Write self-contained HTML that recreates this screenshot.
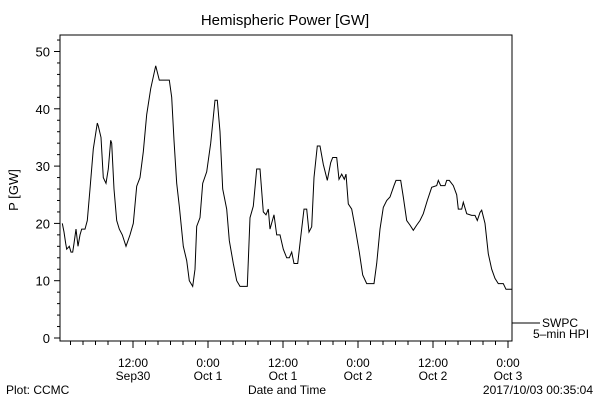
<!DOCTYPE html>
<html><head><meta charset="utf-8"><style>
body{margin:0;background:#fff;}
svg{display:block;font-family:"Liberation Sans",sans-serif;}
text{fill:#000;}
</style></head><body>
<svg width="600" height="400">
<rect x="0" y="0" width="600" height="400" fill="#fff"/>
<text x="285" y="25" font-size="15" text-anchor="middle">Hemispheric Power [GW]</text>
<text transform="translate(18,190) rotate(-90)" font-size="13" text-anchor="middle">P [GW]</text>
<rect x="60" y="35" width="452" height="306" fill="none" stroke="#000" stroke-width="1"/>
<g id="yticks"></g>
<g id="xticks"></g>
<path id="series" fill="none" stroke="#000" stroke-width="1"/>
<line x1="512" y1="323" x2="540" y2="323" stroke="#000"/>
<text x="578" y="327" font-size="12" text-anchor="end">SWPC</text>
<text x="533" y="338" font-size="12">5–min HPI</text>
<text x="6" y="394" font-size="12">Plot: CCMC</text>
<text x="287" y="394" font-size="12" text-anchor="middle">Date and Time</text>
<text x="593" y="394" font-size="12" text-anchor="end">2017/10/03 00:35:04</text>
</svg>
<script>
const hours=[0.69,0.96,1.23,1.39,1.81,2.08,2.35,2.56,2.88,3.2,3.52,3.79,4.32,4.69,5.12,5.65,6.29,6.45,6.88,7.25,7.68,8.05,8.43,8.59,8.96,9.39,9.81,10.29,10.88,11.52,12.05,12.59,13.12,13.65,14.19,14.83,15.63,16.21,17.81,18.19,18.56,18.99,19.41,20.05,20.59,21.01,21.55,21.92,22.19,22.72,23.15,23.79,24.43,25.12,25.49,25.92,26.35,26.99,27.41,28.05,28.59,29.12,30.29,30.72,31.25,31.79,32.32,32.85,33.28,33.65,33.92,34.56,34.99,35.52,36.05,36.59,37.01,37.39,37.76,38.35,38.83,39.36,39.79,40.16,40.59,40.96,41.49,41.92,42.45,43.09,43.63,43.95,44.59,44.96,45.39,45.81,46.08,46.45,46.99,47.52,48.21,48.75,49.39,50.56,50.99,51.52,52.05,52.59,53.12,53.76,54.08,54.83,55.25,55.79,56.32,56.85,57.39,57.92,58.45,59.09,59.79,60.59,60.85,61.23,61.92,62.19,62.61,63.25,63.79,64.05,64.59,64.85,65.39,66.19,66.72,67.09,67.52,67.79,68.32,68.85,69.39,69.92,70.45,71.25,71.68,72.64];
const power=[20,18.5,16.5,15.5,16,15,15,16.5,19,16,18,19,19,20.5,26,33,37.5,37,35,28,27,29.5,34.5,34,26,20.5,19,18,16,18,20,26.5,28,32.5,39,43.5,47.5,45,45,42,34.5,27,23,16,13.5,10,9,12,19.5,21,27,29,34,41.5,41.5,36,26,22.5,17,13,10,9,9,21,23,29.5,29.5,22,21.5,22.5,19,21.5,18,18,15.5,14,14,15,13,13,17.6,22.5,22.5,18.5,19.4,28,33.5,33.5,30.3,27.5,30.6,31.5,31.5,27.7,28.6,27.7,28.6,23.4,22.5,19.4,15,11,9.5,9.5,13,19,22.8,24,24.6,26.6,27.5,27.5,24.6,20.5,19.7,18.8,19.7,20.5,21.7,24,26.3,26.6,27.5,26.6,26.6,27.5,27.5,26.6,25,22.5,22.5,23.7,21.7,21.4,21.4,20.5,21.9,22.3,20,14.7,12,10.4,9.5,9.5,8.5,8.5];
const yTickLabels=["0","10","20","30","40","50"];
const xTickLabels=[["12:00","Sep30"],["0:00","Oct 1"],["12:00","Oct 1"],["0:00","Oct 2"],["12:00","Oct 2"],["0:00","Oct 3"]];
const xTickHours=[12,24,36,48,60,72];
const NS="http://www.w3.org/2000/svg";
function xs(h){return 133+(h-12)*6.25;}
function ys(v){return 338-5.73*v;}
let d="";
for(let i=0;i<hours.length;i++){d+=(i?"L":"M")+xs(hours[i]).toFixed(1)+","+ys(power[i]).toFixed(1);}
document.getElementById("series").setAttribute("d",d);
const yg=document.getElementById("yticks");
for(let v=0;v<=52;v+=2){
 const l=document.createElementNS(NS,"line");
 const maj=v%10===0;
 l.setAttribute("x1",60);l.setAttribute("x2",maj?54:57);
 l.setAttribute("y1",ys(v));l.setAttribute("y2",ys(v));l.setAttribute("stroke","#000");
 
 
 yg.appendChild(l);
}
yTickLabels.forEach((s,i)=>{
 const t=document.createElementNS(NS,"text");
 t.setAttribute("x",50);t.setAttribute("y",ys(i*10)+5);t.setAttribute("font-size","13");t.setAttribute("text-anchor","end");
 t.textContent=s;
 
 
 yg.appendChild(t);
});
const xg=document.getElementById("xticks");
for(let h=2;h<=72;h+=2){
 const l=document.createElementNS(NS,"line");
 const maj=h%12===0;
 l.setAttribute("x1",xs(h));l.setAttribute("x2",xs(h));
 l.setAttribute("y1",341);l.setAttribute("y2",maj?348:345);l.setAttribute("stroke","#000");
 
 
 xg.appendChild(l);
}
xTickLabels.forEach((p,i)=>{
 [0,1].forEach(k=>{
  const t=document.createElementNS(NS,"text");
  t.setAttribute("x",xs(xTickHours[i]));t.setAttribute("y",k?380:367);t.setAttribute("font-size","12");t.setAttribute("text-anchor","middle");
  t.textContent=p[k];
  
  
  xg.appendChild(t);
 });
});
</script>
</body></html>
